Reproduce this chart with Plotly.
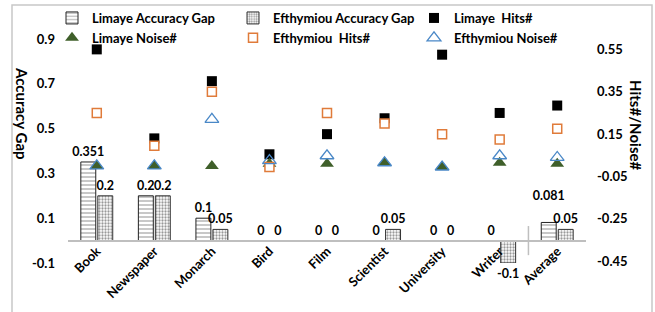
import plotly.graph_objects as go

categories = ["Book", "Newspaper", "Monarch", "Bird", "Film", "Scientist", "University", "Writer", "Average"]
limaye_gap = [0.351, 0.2, 0.1, 0, 0, 0, 0, 0, 0.081]
efthymiou_gap = [0.2, 0.2, 0.05, 0, 0, 0.05, 0, -0.1, 0.05]
limaye_hits = [0.55, 0.13, 0.40, 0.055, 0.15, 0.225, 0.525, 0.25, 0.285]
efthymiou_hits = [0.25, 0.095, 0.35, -0.005, 0.25, 0.20, 0.15, 0.125, 0.175]
limaye_noise = [0.0, 0.0, 0.0, 0.01, 0.01, 0.015, -0.005, 0.015, 0.01]
efthymiou_noise = [0.0, 0.0, 0.22, 0.025, 0.048, 0.015, -0.005, 0.048, 0.04]

left_ticks = [-0.1, 0.1, 0.3, 0.5, 0.7, 0.9]
right_ticks = [-0.45, -0.25, -0.05, 0.15, 0.35, 0.55]
left_range = [-0.1, 0.9]
right_range = [-0.458, 0.599]

W, H = 655, 312
ML, MR, MT, MB = 68, 69, 39, 49
PW, PH = W - ML - MR, H - MT - MB

FONT = "Lato"
def fmt(v):
    return "0" if v == 0 else f"{v:g}"

limaye_labels = [fmt(v) for v in limaye_gap]
# the reference lifts the "Average" label above its neighbour
limaye_labels[-1] = limaye_labels[-1] + "<br> "
efthymiou_labels = [fmt(v) for v in efthymiou_gap]

fig = go.Figure()
fig.add_trace(go.Bar(
    name="Limaye Accuracy Gap", x=categories, y=limaye_gap,
    text=limaye_labels, textposition="outside", constraintext="none",
    cliponaxis=False,
    textfont=dict(family=FONT, size=12.5, color="black", weight="bold"),
    marker=dict(color="white", line=dict(color="#222222", width=1),
                pattern=dict(shape="-", fgcolor="#222222", bgcolor="white", size=4, solidity=0.25)),
))
fig.add_trace(go.Bar(
    name="Efthymiou Accuracy Gap", x=categories, y=efthymiou_gap,
    text=efthymiou_labels, textposition="outside", constraintext="none",
    cliponaxis=False,
    textfont=dict(family=FONT, size=12.5, color="black", weight="bold"),
    marker=dict(color="white", line=dict(color="#333333", width=1),
                pattern=dict(shape=".", fgcolor="#333333", bgcolor="white", size=3, solidity=0.45)),
))
fig.add_trace(go.Scatter(
    name="Limaye  Hits#", x=categories, y=limaye_hits, yaxis="y2", mode="markers",
    marker=dict(symbol="square", size=10, color="black", line=dict(width=0)),
    cliponaxis=False,
))
fig.add_trace(go.Scatter(
    name="Limaye Noise#", x=categories, y=limaye_noise, yaxis="y2", mode="markers",
    marker=dict(symbol="triangle-up", size=12, color="#3F5F2A", line=dict(width=0)),
    cliponaxis=False,
))
fig.add_trace(go.Scatter(
    name="Efthymiou  Hits#", x=categories, y=efthymiou_hits, yaxis="y2", mode="markers",
    marker=dict(symbol="square", size=9, color="white", line=dict(color="#E07B3A", width=1.5)),
    cliponaxis=False,
))
fig.add_trace(go.Scatter(
    name="Efthymiou Noise#", x=categories, y=efthymiou_noise, yaxis="y2", mode="markers",
    marker=dict(symbol="triangle-up-open", size=12, color="#4A88C7", line=dict(color="#4A88C7", width=1.3)),
    cliponaxis=False,
))

zero_pos = (0 - left_range[0]) / (left_range[1] - left_range[0])

fig.update_layout(
    width=W, height=H,
    margin=dict(l=ML, r=MR, t=MT, b=MB, autoexpand=False),
    paper_bgcolor="white", plot_bgcolor="rgba(0,0,0,0)",
    font=dict(family=FONT, size=13, color="black", weight="bold"),
    barmode="group", bargap=0.41, bargroupgap=0.12,
    showlegend=True,
    legend=dict(orientation="h", xref="paper", yref="paper",
                x=(52 - ML) / PW, y=1 + (MT - 3) / PH, xanchor="left", yanchor="top",
                entrywidth=136, entrywidthmode="pixels",
                itemwidth=30, tracegroupgap=0,
                font=dict(family=FONT, size=13, color="black", weight="bold"),
                bgcolor="rgba(0,0,0,0)"),
    xaxis=dict(anchor="free", position=zero_pos, type="category",
               range=[-0.5, len(categories) - 0.5],
               showline=True, linecolor="#BFBFBF", linewidth=2,
               showgrid=False, zeroline=False, ticks="", tickangle=-45,
               ticklabelstandoff=-3,
               tickfont=dict(family=FONT, size=13, color="black", weight="bold")),
    yaxis=dict(range=left_range, tickvals=left_ticks, ticktext=[f"{v:g}" for v in left_ticks],
               showgrid=False, zeroline=False, showline=False, ticks="",
               ticklabelstandoff=12,
               tickfont=dict(family=FONT, size=13, color="black", weight="bold")),
    yaxis2=dict(range=right_range, tickvals=right_ticks, ticktext=[f"{v:g}" for v in right_ticks],
                overlaying="y", side="right", anchor="x",
                showgrid=False, zeroline=False, showline=False, ticks="",
                ticklabelstandoff=10,
                tickfont=dict(family=FONT, size=13, color="black", weight="bold")),
)

# axis titles (rotated to read top to bottom, as in the reference)
fig.add_annotation(text="Accuracy Gap", textangle=90, xref="paper", yref="paper",
                   x=(22 - ML) / PW, y=1 - (113 - MT) / PH, showarrow=False,
                   xanchor="center", yanchor="middle",
                   font=dict(family=FONT, size=15, color="black", weight="bold"))
fig.add_annotation(text="Hits#/Noise#", textangle=90, xref="paper", yref="paper",
                   x=(636 - ML) / PW, y=1 - (125 - MT) / PH, showarrow=False,
                   xanchor="center", yanchor="middle",
                   font=dict(family=FONT, size=15, color="black", weight="bold"))

# outer chart border
fig.add_shape(type="rect", xref="paper", yref="paper",
              x0=(12 - ML) / PW, x1=(652 - ML) / PW,
              y0=(H - 320 - MB) / PH, y1=(H - 5 - MB) / PH,
              line=dict(color="#C8C8C8", width=1.5), fillcolor="rgba(0,0,0,0)", layer="below")
# small tick between the last two categories
fig.add_shape(type="line", xref="x", yref="y", x0=len(categories) - 1.5, x1=len(categories) - 1.5,
              y0=-0.065, y1=0.065, line=dict(color="#BFBFBF", width=1.5))

fig.write_html("out.html", config={"displayModeBar": False},
               post_script="document.body.style.margin='0px';")
